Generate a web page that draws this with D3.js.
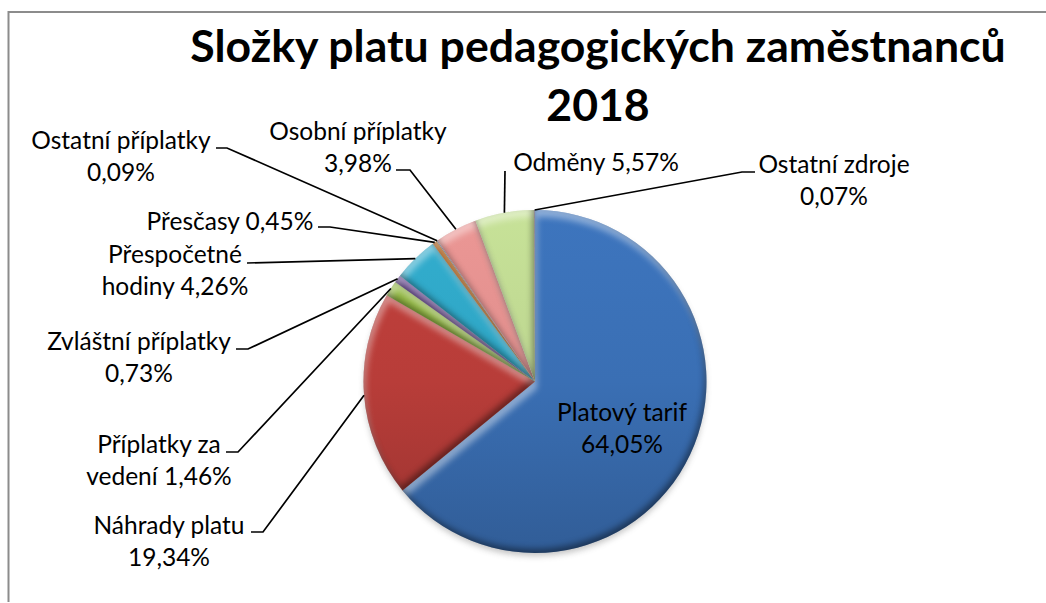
<!DOCTYPE html>
<html>
<head>
<meta charset="utf-8">
<script src="https://cdn.jsdelivr.net/npm/d3@7"></script>
<style>
  html, body { margin: 0; padding: 0; background: #fff; }
  text { font-family: Lato, "Open Sans", sans-serif; fill: #000; }
</style>
</head>
<body>
<svg id="chart" width="1046" height="603"></svg>
<script>
const categories = ['Platový tarif', 'Náhrady platu', 'Příplatky za vedení', 'Zvláštní příplatky',
  'Přespočetné hodiny', 'Přesčasy', 'Ostatní příplatky', 'Osobní příplatky', 'Odměny', 'Ostatní zdroje'];
const values = [64.05, 19.34, 1.46, 0.73, 4.26, 0.45, 0.09, 3.98, 5.57, 0.07];
const colors = ['#3a6fb4', '#b83d39', '#8fb442', '#7352a0', '#2fa5c4', '#de7f2a', '#9db8de', '#e08f8d', '#bdd690', '#a99bc0'];
const labelLines = [
  ['Platový tarif', '64,05%'],
  ['Náhrady platu', '19,34%'],
  ['Příplatky za', 'vedení 1,46%'],
  ['Zvláštní příplatky', '0,73%'],
  ['Přespočetné', 'hodiny 4,26%'],
  ['Přesčasy 0,45%'],
  ['Ostatní příplatky', '0,09%'],
  ['Osobní příplatky', '3,98%'],
  ['Odměny 5,57%'],
  ['Ostatní zdroje', '0,07%']
];
const titleLines = ['Složky platu pedagogických zaměstnanců', '2018'];

// where each label sits and where its leader line bends
const labelLayout = [
  { x: 622, y: 421 },
  { x: 169, y: 534 },
  { x: 159, y: 453 },
  { x: 139, y: 350 },
  { x: 175, y: 263 },
  { x: 230, y: 230 },
  { x: 121, y: 149 },
  { x: 358, y: 140 },
  { x: 596, y: 171 },
  { x: 834, y: 173 }
];
const elbows = [
  null,
  [[263, 532], [251, 532]],
  [[238, 452], [226, 452]],
  [[248, 349], [236, 349]],
  [[247, 263]],
  [[330, 227], [318, 227]],
  [[227, 148], [216, 148]],
  [[410, 170], [396, 170]],
  [[505, 171]],
  [[742, 172], [755, 172]]
];

const width = 1046, height = 603;
const cx = 535, cy = 381.5, r = 171.5;

const svg = d3.select('#chart');
const defs = svg.append('defs');

const shadow = defs.append('filter').attr('id', 'pieShadow')
  .attr('x', '-10%').attr('y', '-10%').attr('width', '120%').attr('height', '120%');
shadow.append('feGaussianBlur').attr('stdDeviation', 3);

// bevel: edge glow on each slice, light on the upper left, dark on the lower right
const bevel = defs.append('filter').attr('id', 'bevel').attr('color-interpolation-filters', 'sRGB')
  .attr('x', '-5%').attr('y', '-5%').attr('width', '110%').attr('height', '110%');
bevel.append('feGaussianBlur').attr('in', 'SourceAlpha').attr('stdDeviation', 3).attr('result', 'blur');
bevel.append('feOffset').attr('in', 'blur').attr('dx', 2).attr('dy', 7).attr('result', 'off1');
bevel.append('feComposite').attr('in', 'SourceAlpha').attr('in2', 'off1').attr('operator', 'out').attr('result', 'lightEdge');
bevel.append('feFlood').attr('flood-color', '#fff').attr('flood-opacity', 0.42).attr('result', 'lightC');
bevel.append('feComposite').attr('in', 'lightC').attr('in2', 'lightEdge').attr('operator', 'in').attr('result', 'light');
bevel.append('feOffset').attr('in', 'blur').attr('dx', -2).attr('dy', -4).attr('result', 'off2');
bevel.append('feComposite').attr('in', 'SourceAlpha').attr('in2', 'off2').attr('operator', 'out').attr('result', 'darkEdge');
bevel.append('feFlood').attr('flood-color', '#000').attr('flood-opacity', 0.42).attr('result', 'darkC');
bevel.append('feComposite').attr('in', 'darkC').attr('in2', 'darkEdge').attr('operator', 'in').attr('result', 'dark');
const merge = bevel.append('feMerge');
merge.append('feMergeNode').attr('in', 'SourceGraphic');
merge.append('feMergeNode').attr('in', 'light');
merge.append('feMergeNode').attr('in', 'dark');

// each slice gets lighter at the top of the pie and darker at the bottom
colors.forEach((c, i) => {
  const grad = defs.append('linearGradient').attr('id', `slice${i}`)
    .attr('gradientUnits', 'userSpaceOnUse')
    .attr('x1', 0).attr('y1', -r).attr('x2', 0).attr('y2', r);
  grad.append('stop').attr('offset', 0).attr('stop-color', d3.color(c).brighter(0.15));
  grad.append('stop').attr('offset', 0.5).attr('stop-color', c);
  grad.append('stop').attr('offset', 1).attr('stop-color', d3.color(c).darker(0.5));
});

// frame, open on the right and bottom like the screenshot
svg.append('path')
  .attr('d', d3.line()([[8.5, height - 1], [8.5, 12], [width, 12]]))
  .attr('fill', 'none').attr('stroke', '#8c8c8c').attr('stroke-width', 2);

const pie = d3.pie().sort(null).value(d => d);
const arcs = pie(values);
const arc = d3.arc().innerRadius(0).outerRadius(r);

const g = svg.append('g').attr('transform', `translate(${cx},${cy})`);

g.append('circle').attr('cx', 0).attr('cy', 4).attr('r', r - 1)
  .attr('fill', '#777').attr('opacity', 0.45).attr('filter', 'url(#pieShadow)');

g.selectAll('path.slice').data(arcs).enter().append('path')
  .attr('class', 'slice')
  .attr('d', arc)
  .attr('fill', (d, i) => `url(#slice${i})`)
  .attr('filter', 'url(#bevel)');

// leader lines start on the rim of the slice
const rimPoint = d => {
  const a = (d.startAngle + d.endAngle) / 2;
  return [cx + Math.sin(a) * r, cy - Math.cos(a) * r];
};
svg.selectAll('path.leader').data(arcs.filter((d, i) => elbows[i])).enter().append('path')
  .attr('class', 'leader')
  .attr('d', d => d3.line()([rimPoint(d), ...elbows[d.index]]))
  .attr('fill', 'none').attr('stroke', '#000').attr('stroke-width', 1.7);

const labels = svg.selectAll('text.label').data(labelLines).enter().append('text')
  .attr('class', 'label')
  .attr('text-anchor', 'middle')
  .attr('font-size', 24.5);
labels.each(function(lines, i) {
  d3.select(this).selectAll('tspan').data(lines).enter().append('tspan')
    .attr('x', labelLayout[i].x)
    .attr('y', (d, j) => labelLayout[i].y + j * 32.3)
    .text(d => d);
});

svg.selectAll('text.title').data(titleLines).enter().append('text')
  .attr('class', 'title')
  .attr('text-anchor', 'middle')
  .attr('x', 598)
  .attr('y', (d, i) => 62 + i * 59)
  .attr('font-size', 44.6)
  .attr('font-weight', 700)
  .text(d => d);
</script>
</body>
</html>
